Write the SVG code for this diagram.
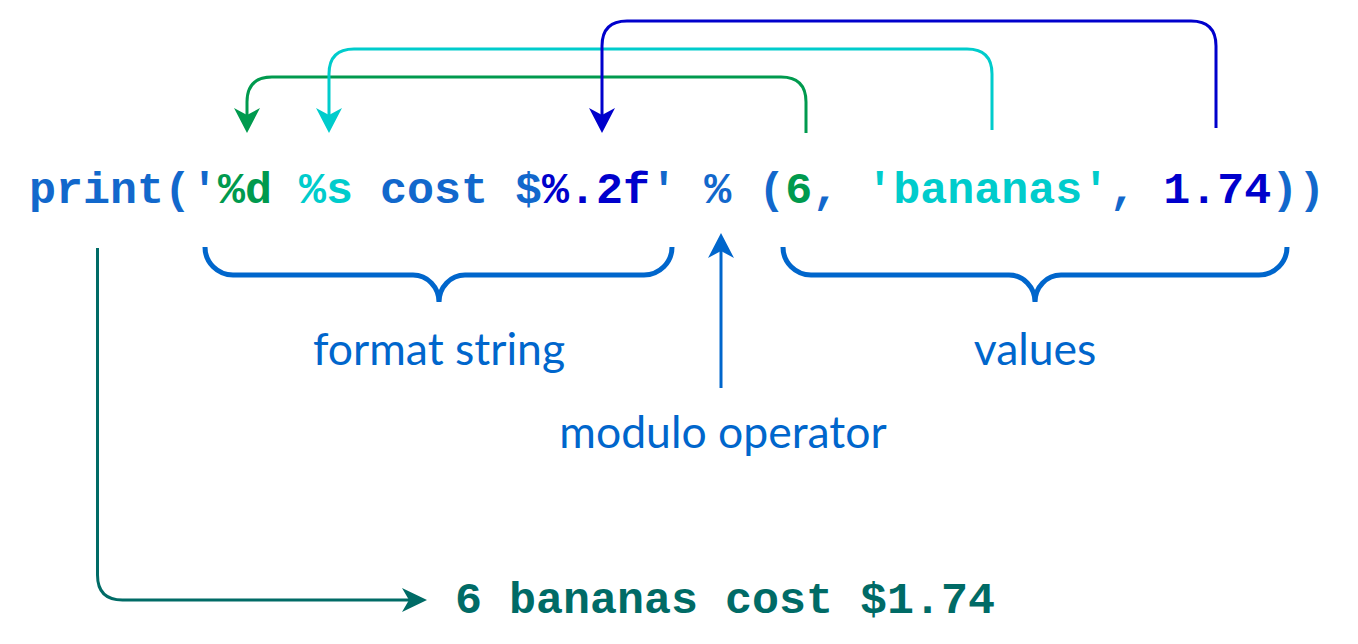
<svg xmlns="http://www.w3.org/2000/svg" width="1358" height="644" viewBox="0 0 1358 644">
<style>
.code{font-family:"Liberation Mono","Courier New",monospace;font-weight:bold;font-size:45px}
.lbl{font-family:Lato,"Open Sans",sans-serif;font-size:44.5px;fill:#0066cc;text-anchor:middle}
.b{fill:#1268cc}.g{fill:#009a4e}.c{fill:#00cccc}.d{fill:#0000cc}
.ln{fill:none;stroke-width:3}
.brace{fill:none;stroke:#0066cc;stroke-width:5}
</style>
<defs>
<marker id="ag" viewBox="-26 -14 28 28" refX="-18" refY="0" markerWidth="28" markerHeight="28" markerUnits="userSpaceOnUse" orient="auto"><path d="M0,0 L-25,-13 L-18,0 L-25,13 Z" fill="#009a4e"/></marker>
<marker id="ac" viewBox="-26 -14 28 28" refX="-18" refY="0" markerWidth="28" markerHeight="28" markerUnits="userSpaceOnUse" orient="auto"><path d="M0,0 L-25,-13 L-18,0 L-25,13 Z" fill="#00cccc"/></marker>
<marker id="ad" viewBox="-26 -14 28 28" refX="-18" refY="0" markerWidth="28" markerHeight="28" markerUnits="userSpaceOnUse" orient="auto"><path d="M0,0 L-25,-13 L-18,0 L-25,13 Z" fill="#0000cc"/></marker>
<marker id="ab" viewBox="-26 -14 28 28" refX="-18" refY="0" markerWidth="28" markerHeight="28" markerUnits="userSpaceOnUse" orient="auto"><path d="M0,0 L-25,-13 L-18,0 L-25,13 Z" fill="#0066cc"/></marker>
<marker id="at" viewBox="-26 -14 28 28" refX="-18" refY="0" markerWidth="28" markerHeight="28" markerUnits="userSpaceOnUse" orient="auto"><path d="M0,0 L-25,-12 L-18,0 L-25,12 Z" fill="#006b66"/></marker>
</defs>
<g id="connectors">
<path class="ln" stroke="#009a4e" d="M806,133 V102 Q806,77 781,77 H272 Q247,77 247,102 V115" marker-end="url(#ag)"/>
<path class="ln" stroke="#00cccc" d="M992,130 V74 Q992,49 967,49 H354 Q329,49 329,74 V115" marker-end="url(#ac)"/>
<path class="ln" stroke="#0000cc" d="M1216,128 V46 Q1216,21 1191,21 H627 Q602,21 602,46 V115" marker-end="url(#ad)"/>
<path class="ln" stroke="#0066cc" stroke-width="3.5" d="M721,388 V251" marker-end="url(#ab)"/>
<path class="ln" stroke="#006b66" stroke-width="2.5" d="M97.5,248 V575 Q97.5,600 122.5,600 H409" marker-end="url(#at)"/>
</g>
<g id="code">
<text class="code" x="29" y="203"><tspan class="b">print('</tspan><tspan class="g">%d</tspan><tspan class="b"> </tspan><tspan class="c">%s</tspan><tspan class="b"> cost $</tspan><tspan class="d">%.2f</tspan><tspan class="b">' % (</tspan><tspan class="g">6</tspan><tspan class="b">, </tspan><tspan class="c">'bananas'</tspan><tspan class="b">, </tspan><tspan class="d">1.74</tspan><tspan class="b">))</tspan></text>
</g>
<g id="format-string">
<path class="brace" d="M205,247 A28,28 0 0 0 233,275 H413 A26,27 0 0 1 439,302 A26,27 0 0 1 465,275 H644 A28,28 0 0 0 672,247"/>
<text class="lbl" x="439" y="365">format string</text>
</g>
<g id="values">
<path class="brace" d="M783,247 A28,28 0 0 0 811,275 H1009 A26,27 0 0 1 1035,302 A26,27 0 0 1 1061,275 H1259 A28,28 0 0 0 1287,247"/>
<text class="lbl" x="1035" y="365">values</text>
</g>
<g id="modulo-operator">
<text class="lbl" x="723" y="448">modulo operator</text>
</g>
<g id="output">
<text class="code" x="455" y="613" fill="#006b66">6 bananas cost $1.74</text>
</g>
</svg>
